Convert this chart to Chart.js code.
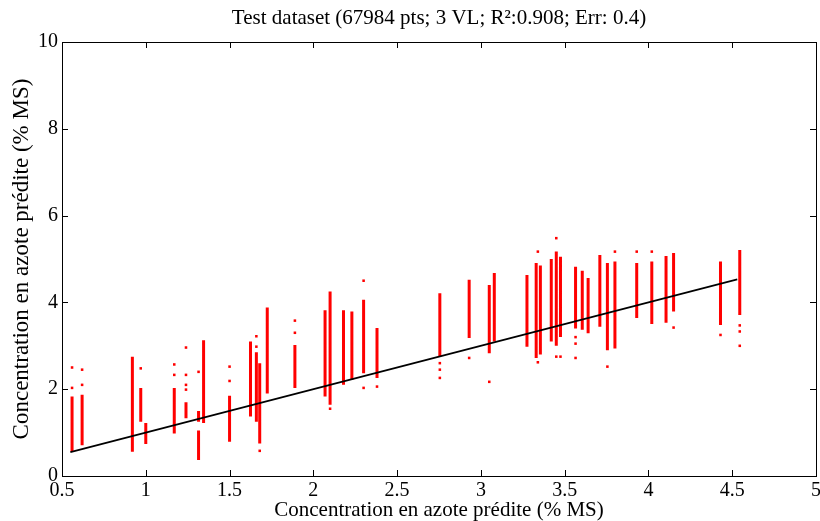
<!DOCTYPE html>
<html>
<head>
<meta charset="utf-8">
<script src="https://cdn.jsdelivr.net/npm/chart.js@4"></script>
<style>
html, body { margin: 0; padding: 0; background: #fff; }
</style>
</head>
<body>
<canvas id="chart" width="820" height="521"></canvas>
<script>
// Vertical strips of points (x position, lowest and highest y)
const stripX = [0.56, 0.62, 0.92, 0.97, 1.00, 1.17, 1.24, 1.315, 1.315, 1.345, 1.50, 1.625, 1.66, 1.68, 1.725, 1.89, 2.07, 2.10, 2.18, 2.23, 2.30, 2.38, 2.755, 2.93, 3.05, 3.08, 3.275, 3.33, 3.355, 3.42, 3.45, 3.475, 3.565, 3.605, 3.64, 3.71, 3.755, 3.80, 3.93, 4.02, 4.105, 4.15, 4.43, 4.545];
const stripLow = [0.56, 0.71, 0.56, 1.25, 0.74, 0.98, 1.33, 0.37, 1.25, 1.22, 0.79, 1.37, 1.25, 0.75, 1.90, 2.03, 1.83, 1.64, 2.10, 2.21, 2.37, 2.26, 2.75, 3.18, 2.83, 3.10, 2.98, 2.72, 2.80, 3.10, 3.00, 3.20, 3.40, 3.37, 3.29, 3.44, 2.90, 2.94, 3.64, 3.50, 3.53, 3.79, 3.48, 3.71];
const stripHigh = [1.83, 1.87, 2.75, 2.03, 1.22, 2.03, 1.70, 1.05, 1.50, 3.13, 1.85, 3.10, 2.85, 2.60, 3.88, 3.02, 3.82, 4.25, 3.82, 3.79, 4.06, 3.41, 4.21, 4.52, 4.40, 4.68, 4.63, 4.91, 4.85, 5.00, 5.17, 5.05, 4.82, 4.73, 4.56, 5.09, 4.91, 4.94, 4.91, 4.94, 5.07, 5.14, 4.94, 5.21];

// Isolated points outside the strips
const outlierX = [0.56, 0.56, 0.62, 0.62, 0.97, 1.17, 1.17, 1.24, 1.24, 1.24, 1.24, 1.315, 1.50, 1.50, 1.66, 1.66, 1.68, 1.89, 1.89, 2.10, 2.30, 2.30, 2.38, 2.755, 2.755, 2.755, 2.93, 3.05, 3.34, 3.34, 3.45, 3.45, 3.475, 3.565, 3.565, 3.565, 3.755, 3.80, 3.93, 4.02, 4.15, 4.43, 4.545, 4.545, 4.545];
const outlierY = [2.50, 2.03, 2.45, 2.10, 2.48, 2.57, 2.33, 2.96, 2.33, 2.10, 1.99, 2.40, 2.52, 2.19, 3.22, 2.98, 0.58, 3.58, 3.30, 1.55, 4.50, 2.03, 2.06, 2.60, 2.45, 2.26, 2.72, 2.17, 5.17, 2.62, 5.48, 2.75, 2.75, 3.20, 3.05, 2.72, 2.52, 5.17, 5.17, 5.17, 3.42, 3.25, 3.47, 3.33, 3.00];

// 1:1 reference line
const fitX = [0.55, 4.53];
const fitY = [0.55, 4.53];

const titleText = 'Test dataset (67984 pts; 3 VL; R²:0.908; Err: 0.4)';
const xLabel = 'Concentration en azote prédite (% MS)';
const yLabel = 'Concentration en azote prédite (% MS)';

const serif = '"Liberation Serif", "Times New Roman", serif';

// strips as broken line segments (null breaks the line)
const stripData = [];
stripX.forEach((x, i) => {
    stripData.push({ x: x, y: stripLow[i] });
    stripData.push({ x: x, y: stripHigh[i] });
    stripData.push({ x: x, y: null });
});
const outlierData = outlierX.map((x, i) => ({ x: x, y: outlierY[i] }));
const fitData = fitX.map((x, i) => ({ x: x, y: fitY[i] }));

// MATLAB style box with inward ticks
const boxTicks = {
    id: 'boxTicks',
    afterDraw(chart) {
        const { ctx, chartArea: a, scales: { x, y } } = chart;
        ctx.save();
        ctx.strokeStyle = '#000';
        ctx.lineWidth = 1;
        ctx.strokeRect(a.left + 0.5, a.top + 0.5, a.right - a.left, a.bottom - a.top);
        ctx.beginPath();
        x.ticks.forEach(t => {
            const px = Math.round(x.getPixelForValue(t.value)) + 0.5;
            ctx.moveTo(px, a.bottom); ctx.lineTo(px, a.bottom - 6);
            ctx.moveTo(px, a.top); ctx.lineTo(px, a.top + 6);
        });
        y.ticks.forEach(t => {
            const py = Math.round(y.getPixelForValue(t.value)) + 0.5;
            ctx.moveTo(a.left, py); ctx.lineTo(a.left + 6, py);
            ctx.moveTo(a.right, py); ctx.lineTo(a.right - 6, py);
        });
        ctx.stroke();
        ctx.restore();
    }
};

new Chart(document.getElementById('chart'), {
    type: 'scatter',
    data: {
        datasets: [
            {
                type: 'line',
                data: fitData,
                borderColor: '#000',
                borderWidth: 1.6,
                pointRadius: 0,
                fill: false
            },
            {
                data: outlierData,
                pointStyle: 'rect',
                pointRadius: 1.8,
                backgroundColor: '#ff0000',
                borderWidth: 0
            },
            {
                type: 'line',
                data: stripData,
                borderColor: '#ff0000',
                borderWidth: 3,
                borderCapStyle: 'butt',
                pointRadius: 0,
                spanGaps: false,
                fill: false
            }
        ]
    },
    options: {
        responsive: false,
        animation: false,
        devicePixelRatio: 1,
        layout: { padding: { left: 0, right: 0, top: 0, bottom: 0 } },
        plugins: {
            legend: { display: false },
            tooltip: { enabled: false },
            title: {
                display: true,
                text: titleText,
                fullSize: false,
                color: '#000',
                font: { family: serif, size: 21, weight: 'normal', lineHeight: 1 },
                padding: { top: 8, bottom: 13 }
            }
        },
        scales: {
            x: {
                type: 'linear',
                min: 0.5,
                max: 5,
                ticks: {
                    stepSize: 0.5, color: '#000', padding: 3, maxRotation: 0,
                    font: { family: serif, size: 20 },
                    callback: v => String(v)
                },
                grid: { display: false, drawTicks: false },
                border: { display: false },
                title: {
                    display: true,
                    text: xLabel,
                    color: '#000',
                    font: { family: serif, size: 21, lineHeight: 1 },
                    padding: { top: 0, bottom: 0 }
                },
                afterFit: s => { s.height = 45; s.paddingLeft = 0; s.paddingRight = 0; }
            },
            y: {
                min: 0,
                max: 10,
                ticks: {
                    stepSize: 2, color: '#000', padding: 4,
                    font: { family: serif, size: 20 },
                    callback: v => String(v)
                },
                grid: { display: false, drawTicks: false },
                border: { display: false },
                title: {
                    display: true,
                    text: yLabel,
                    color: '#000',
                    font: { family: serif, size: 23, lineHeight: 1.2 },
                    padding: { top: 8, bottom: 0 }
                },
                afterFit: s => { s.width = 62; s.paddingTop = 0; s.paddingBottom = 0; }
            }
        }
    },
    plugins: [boxTicks]
});
</script>
</body>
</html>
